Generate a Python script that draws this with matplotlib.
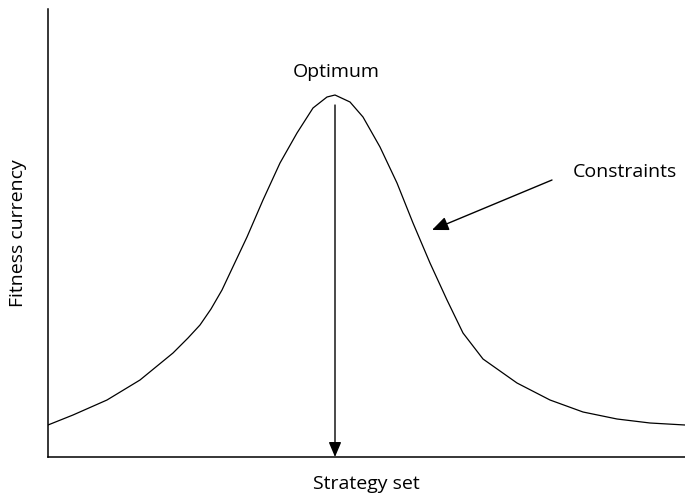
import matplotlib
matplotlib.use("Agg")
import matplotlib.pyplot as plt

plt.rcParams["font.family"] = ["Open Sans", "DejaVu Sans"]

# curve (strategy value, fitness)
strategy = [0, 25, 59, 92, 125, 140, 152, 163, 174, 182, 199, 215, 232, 249,
            265, 279, 287, 302, 315, 332, 349, 365, 382, 399, 415, 435, 469,
            502, 535, 569, 602, 637]
fitness = [32, 42, 57, 77, 104, 119, 132, 148, 167, 184, 220, 257, 294, 324,
           349, 360, 362, 355, 340, 310, 274, 234, 194, 157, 124, 98, 74,
           57, 45, 38, 34, 32]

optimum_x = 287
optimum_top = 352
constraint_tail = (504, 277)
constraint_head = (384, 227)

fig = plt.figure(figsize=(6.85, 4.95), dpi=100)
ax = fig.add_axes([48 / 685, 38 / 495, 637 / 685, 448 / 495])
ax.plot(strategy, fitness, color="black", lw=0.9, solid_joinstyle="round")
ax.set_xlim(0, 637)
ax.set_ylim(0, 448)

for s in ("top", "right"):
    ax.spines[s].set_visible(False)
for s in ("left", "bottom"):
    ax.spines[s].set_linewidth(1.1)
ax.set_xticks([])
ax.set_yticks([])

ax.annotate("", xy=(optimum_x, 0), xytext=(optimum_x, optimum_top),
            arrowprops=dict(arrowstyle="-|>,head_length=0.9,head_width=0.38",
                            color="black", lw=1.0, shrinkA=0, shrinkB=0))
ax.annotate("", xy=constraint_head, xytext=constraint_tail,
            arrowprops=dict(arrowstyle="-|>,head_length=1.0,head_width=0.42",
                            color="black", lw=1.0, shrinkA=0, shrinkB=0))

ax.text(optimum_x + 1, 385, "Optimum", ha="center", va="center", fontsize=14)
ax.text(525, 285, "Constraints", ha="left", va="center", fontsize=14)
ax.set_xlabel("Strategy set", fontsize=14, labelpad=13)
ax.set_ylabel("Fitness currency", fontsize=14, labelpad=15)

fig.savefig("out.png", dpi=100)
